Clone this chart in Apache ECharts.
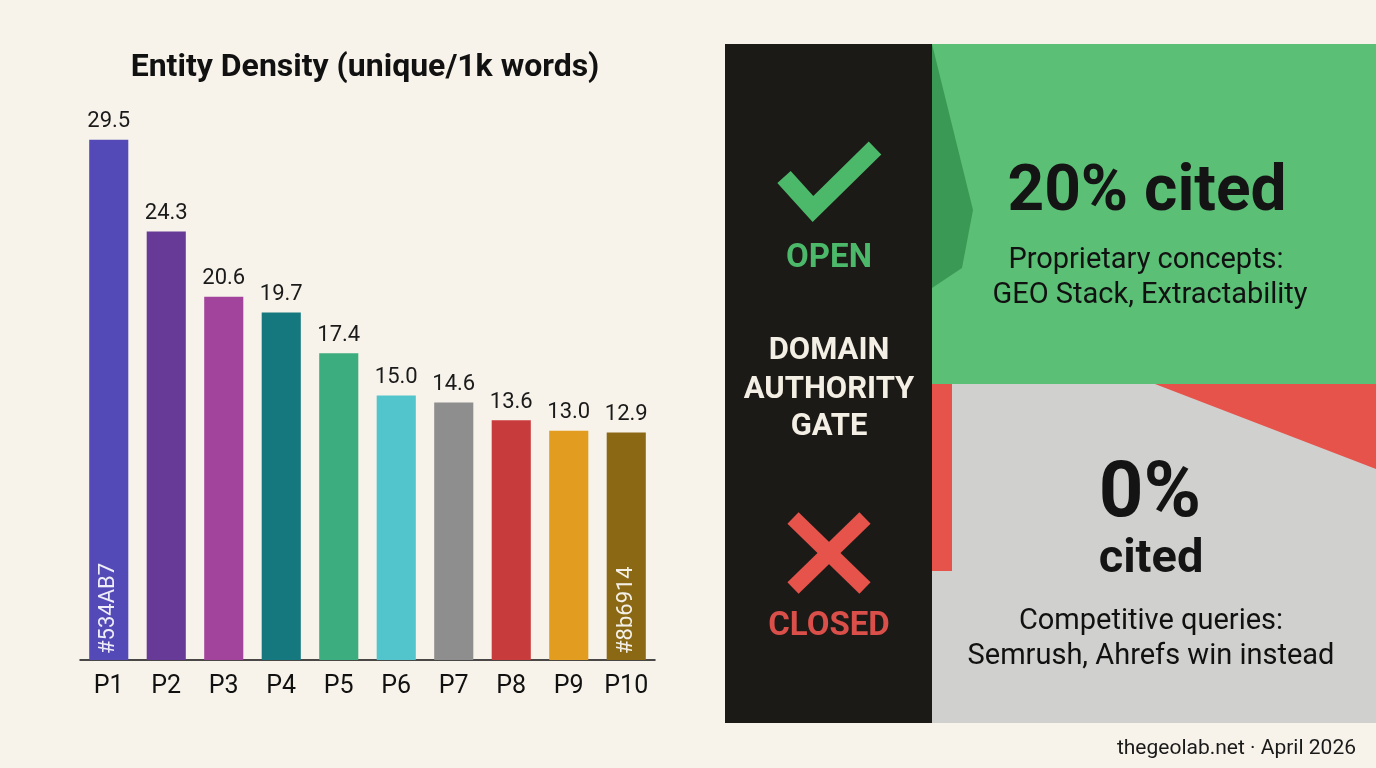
<!DOCTYPE html>
<html>
<head>
<meta charset="utf-8">
<script src="https://cdn.jsdelivr.net/npm/echarts@6/dist/echarts.min.js"></script>
<style>
html,body{margin:0;padding:0;background:#F7F3EA;}
#chart{width:1376px;height:768px;}
</style>
</head>
<body>
<div id="chart"></div>
<script>
const categories = ['P1','P2','P3','P4','P5','P6','P7','P8','P9','P10'];
const densityValues = [29.5, 24.3, 20.6, 19.7, 17.4, 15.0, 14.6, 13.6, 13.0, 12.9];
const barColors = ['#534AB7','#673A98','#A3449C','#16787F','#3BAD7F','#52C4CB','#8E8E8E','#C83B3D','#E29C20','#8B6914'];
const insideLabels = ['#534AB7','','','','','','','','','#8b6914'];

const FONT = 'Roboto, "Noto Sans", sans-serif';
const chart = echarts.init(document.getElementById('chart'));

const green = '#5BBF76';
const red = '#E5534B';

const option = {
  backgroundColor: '#F7F3EA',
  animation: false,
  title: {
    text: 'Entity Density (unique/1k words)',
    left: 360, top: 47, textAlign: 'center',
    textStyle: {fontFamily: FONT, fontSize: 32, fontWeight: 'bold', color: '#111'}
  },
  grid: {left: 80, right: 721, top: 131, bottom: 108},
  xAxis: {
    type: 'category', data: categories,
    axisLine: {lineStyle: {color: '#111', width: 1.5}},
    axisTick: {show: false},
    axisLabel: {fontFamily: FONT, fontSize: 25, color: '#111', margin: 14}
  },
  yAxis: {type: 'value', min: 0, max: 30, show: false, splitLine: {show: false}},
  series: [
    {
      type: 'bar', barWidth: '68%',
      data: densityValues.map((v, i) => ({value: v, itemStyle: {color: barColors[i]}})),
      label: {
        show: true, position: 'top', distance: 7,
        formatter: p => p.value.toFixed(1),
        fontFamily: FONT, fontSize: 22, color: '#1a1a1a'
      }
    },
    {
      type: 'bar', barWidth: '68%', barGap: '-100%',
      data: densityValues.map((v, i) => ({value: v, label: {show: insideLabels[i] !== '', formatter: insideLabels[i]}})),
      itemStyle: {color: 'rgba(0,0,0,0)'},
      label: {
        position: 'insideBottom', rotate: 90, distance: 6,
        align: 'left', verticalAlign: 'middle',
        fontFamily: FONT, fontSize: 22, color: 'rgba(255,255,255,0.9)'
      },
      silent: true
    }
  ],
  graphic: [
    // dark gate strip
    {type: 'rect', shape: {x: 725, y: 44, width: 208, height: 679}, style: {fill: '#1C1A17'}},
    // green box
    {type: 'rect', shape: {x: 932, y: 44, width: 444, height: 340}, style: {fill: green}},
    {type: 'polygon', shape: {points: [[932,44],[973,210],[962,268],[932,288]]}, style: {fill: '#3A9A55'}},
    // gray box
    {type: 'rect', shape: {x: 932, y: 384, width: 444, height: 339}, style: {fill: '#D0D0CE'}},
    {type: 'rect', shape: {x: 932, y: 384, width: 20, height: 187}, style: {fill: red}},
    {type: 'polygon', shape: {points: [[1155,384],[1376,384],[1376,469]]}, style: {fill: red}},
    // check mark
    {type: 'polyline', shape: {points: [[784,177],[813,209],[875,148]]}, style: {stroke: '#4CB86A', lineWidth: 18, fill: null, lineJoin: 'miter', lineCap: 'butt'}},
    {type: 'text', x: 829, y: 259, style: {text: 'OPEN', fill: '#4CB86A', font: 'bold 33px ' + FONT, textAlign: 'center', textVerticalAlign: 'middle'}},
    {type: 'text', x: 829, y: 351, style: {text: 'DOMAIN', fill: '#F4EFE4', font: 'bold 31px ' + FONT, textAlign: 'center', textVerticalAlign: 'middle'}},
    {type: 'text', x: 829, y: 390, style: {text: 'AUTHORITY', fill: '#F4EFE4', font: 'bold 31px ' + FONT, textAlign: 'center', textVerticalAlign: 'middle'}},
    {type: 'text', x: 829, y: 427, style: {text: 'GATE', fill: '#F4EFE4', font: 'bold 31px ' + FONT, textAlign: 'center', textVerticalAlign: 'middle'}},
    // X mark
    {type: 'line', shape: {x1: 793, y1: 518, x2: 865, y2: 588}, style: {stroke: red, lineWidth: 16}},
    {type: 'line', shape: {x1: 865, y1: 518, x2: 793, y2: 588}, style: {stroke: red, lineWidth: 16}},
    {type: 'text', x: 829, y: 627, style: {text: 'CLOSED', fill: '#DA4F49', font: 'bold 33px ' + FONT, textAlign: 'center', textVerticalAlign: 'middle'}},
    // green texts
    {type: 'text', x: 1147, y: 194, style: {text: '20% cited', fill: '#141414', font: 'bold 64px ' + FONT, textAlign: 'center', textVerticalAlign: 'middle'}},
    {type: 'text', x: 1146, y: 261, style: {text: 'Proprietary concepts:', fill: '#111', font: '29px ' + FONT, textAlign: 'center', textVerticalAlign: 'middle'}},
    {type: 'text', x: 1150, y: 296, style: {text: 'GEO Stack, Extractability', fill: '#111', font: '29px ' + FONT, textAlign: 'center', textVerticalAlign: 'middle'}},
    // gray texts
    {type: 'text', x: 1150, y: 496, style: {text: '0%', fill: '#141414', font: 'bold 78px ' + FONT, textAlign: 'center', textVerticalAlign: 'middle'}},
    {type: 'text', x: 1151, y: 560, style: {text: 'cited', fill: '#141414', font: 'bold 47px ' + FONT, textAlign: 'center', textVerticalAlign: 'middle'}},
    {type: 'text', x: 1151, y: 622, style: {text: 'Competitive queries:', fill: '#111', font: '29px ' + FONT, textAlign: 'center', textVerticalAlign: 'middle'}},
    {type: 'text', x: 1151, y: 657, style: {text: 'Semrush, Ahrefs win instead', fill: '#111', font: '29px ' + FONT, textAlign: 'center', textVerticalAlign: 'middle'}},
    // footer
    {type: 'text', x: 1356, y: 749, style: {text: 'thegeolab.net · April 2026', fill: '#1a1a1a', font: '21px ' + FONT, textAlign: 'right', textVerticalAlign: 'middle'}}
  ]
};
chart.setOption(option);
</script>
</body>
</html>
